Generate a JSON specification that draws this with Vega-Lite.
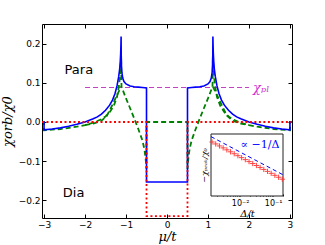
{
  "$schema": "https://vega.github.io/schema/vega-lite/v6.json",
  "width": 250,
  "height": 194,
  "autosize": "none",
  "padding": {"left": 42, "top": 24, "right": 33, "bottom": 27},
  "background": "white",
  "config": {
    "font": "DejaVu Sans",
    "view": {"stroke": "#000", "strokeWidth": 1},
    "axis": {"grid": false, "tickColor": "#000", "labelColor": "#000", "titleColor": "#000", "titleFontWeight": "normal"}
  },
  "datasets": {
    "blue": [
      {"i":1,"mu":-3.05,"chi":0},{"i":2,"mu":-3.0,"chi":0},{"i":3,"mu":-3.0,"chi":-0.02},{"i":4,"mu":-2.8,"chi":-0.018},
      {"i":5,"mu":-2.6,"chi":-0.015},{"i":6,"mu":-2.4,"chi":-0.011},{"i":7,"mu":-2.2,"chi":-0.006},{"i":8,"mu":-2.0,"chi":0.0},
      {"i":9,"mu":-1.8,"chi":0.008},{"i":10,"mu":-1.7,"chi":0.013},{"i":11,"mu":-1.6,"chi":0.02},{"i":12,"mu":-1.5,"chi":0.03},
      {"i":13,"mu":-1.4,"chi":0.043},{"i":14,"mu":-1.33,"chi":0.056},{"i":15,"mu":-1.27,"chi":0.072},{"i":16,"mu":-1.22,"chi":0.092},
      {"i":17,"mu":-1.18,"chi":0.115},{"i":18,"mu":-1.155,"chi":0.135},{"i":19,"mu":-1.14,"chi":0.155},{"i":20,"mu":-1.13,"chi":0.175},
      {"i":21,"mu":-1.123,"chi":0.2},{"i":22,"mu":-1.12,"chi":0.218},{"i":23,"mu":-1.117,"chi":0.17},{"i":24,"mu":-1.11,"chi":0.14},
      {"i":25,"mu":-1.1,"chi":0.125},{"i":26,"mu":-1.08,"chi":0.112},{"i":27,"mu":-1.05,"chi":0.103},{"i":28,"mu":-1.0,"chi":0.097},
      {"i":29,"mu":-0.9,"chi":0.092},{"i":30,"mu":-0.8,"chi":0.09},{"i":31,"mu":-0.7,"chi":0.089},{"i":32,"mu":-0.6,"chi":0.088},
      {"i":33,"mu":-0.5,"chi":0.087},{"i":34,"mu":-0.5,"chi":-0.153},{"i":35,"mu":0.5,"chi":-0.153},{"i":36,"mu":0.5,"chi":0.087},
      {"i":37,"mu":0.6,"chi":0.088},{"i":38,"mu":0.7,"chi":0.089},{"i":39,"mu":0.8,"chi":0.09},{"i":40,"mu":0.9,"chi":0.092},
      {"i":41,"mu":1.0,"chi":0.097},{"i":42,"mu":1.05,"chi":0.103},{"i":43,"mu":1.08,"chi":0.112},{"i":44,"mu":1.1,"chi":0.125},
      {"i":45,"mu":1.11,"chi":0.14},{"i":46,"mu":1.117,"chi":0.17},{"i":47,"mu":1.12,"chi":0.218},{"i":48,"mu":1.123,"chi":0.2},
      {"i":49,"mu":1.13,"chi":0.175},{"i":50,"mu":1.14,"chi":0.155},{"i":51,"mu":1.155,"chi":0.135},{"i":52,"mu":1.18,"chi":0.115},
      {"i":53,"mu":1.22,"chi":0.092},{"i":54,"mu":1.27,"chi":0.072},{"i":55,"mu":1.33,"chi":0.056},{"i":56,"mu":1.4,"chi":0.043},
      {"i":57,"mu":1.5,"chi":0.03},{"i":58,"mu":1.6,"chi":0.02},{"i":59,"mu":1.7,"chi":0.013},{"i":60,"mu":1.8,"chi":0.008},
      {"i":61,"mu":2.0,"chi":0.0},{"i":62,"mu":2.2,"chi":-0.006},{"i":63,"mu":2.4,"chi":-0.011},{"i":64,"mu":2.6,"chi":-0.015},
      {"i":65,"mu":2.8,"chi":-0.018},{"i":66,"mu":3.0,"chi":-0.02},{"i":67,"mu":3.0,"chi":0},{"i":68,"mu":3.05,"chi":0}
    ],
    "green1": [
      {"i":1,"mu":-3.05,"chi":0},{"i":2,"mu":-3.0,"chi":0},{"i":3,"mu":-3.0,"chi":-0.021},{"i":4,"mu":-2.6,"chi":-0.018},
      {"i":5,"mu":-2.2,"chi":-0.012},{"i":6,"mu":-2.0,"chi":-0.008},{"i":7,"mu":-1.8,"chi":-0.002},{"i":8,"mu":-1.6,"chi":0.007},
      {"i":9,"mu":-1.5,"chi":0.014},{"i":10,"mu":-1.4,"chi":0.025},{"i":11,"mu":-1.3,"chi":0.041},{"i":12,"mu":-1.22,"chi":0.064},
      {"i":13,"mu":-1.17,"chi":0.093},{"i":14,"mu":-1.14,"chi":0.125},{"i":15,"mu":-1.125,"chi":0.155},{"i":16,"mu":-1.12,"chi":0.172},
      {"i":17,"mu":-1.115,"chi":0.12},{"i":18,"mu":-1.11,"chi":0.09},{"i":19,"mu":-1.0,"chi":0.06},{"i":20,"mu":-0.9,"chi":0.035},
      {"i":21,"mu":-0.8,"chi":0.009},{"i":22,"mu":-0.7,"chi":-0.018},{"i":23,"mu":-0.6,"chi":-0.047},{"i":24,"mu":-0.55,"chi":-0.07},
      {"i":25,"mu":-0.52,"chi":-0.095},{"i":26,"mu":-0.5,"chi":-0.12},{"i":27,"mu":-0.5,"chi":0},{"i":28,"mu":0.5,"chi":0},
      {"i":29,"mu":0.5,"chi":-0.12},{"i":30,"mu":0.52,"chi":-0.095},{"i":31,"mu":0.55,"chi":-0.07},{"i":32,"mu":0.6,"chi":-0.047},
      {"i":33,"mu":0.7,"chi":-0.018},{"i":34,"mu":0.8,"chi":0.009},{"i":35,"mu":0.9,"chi":0.035},{"i":36,"mu":1.0,"chi":0.06},
      {"i":37,"mu":1.11,"chi":0.09},{"i":38,"mu":1.115,"chi":0.12},{"i":39,"mu":1.12,"chi":0.172},{"i":40,"mu":1.125,"chi":0.155},
      {"i":41,"mu":1.14,"chi":0.125},{"i":42,"mu":1.17,"chi":0.093},{"i":43,"mu":1.22,"chi":0.064},{"i":44,"mu":1.3,"chi":0.041},
      {"i":45,"mu":1.4,"chi":0.025},{"i":46,"mu":1.5,"chi":0.014},{"i":47,"mu":1.6,"chi":0.007},{"i":48,"mu":1.8,"chi":-0.002},
      {"i":49,"mu":2.0,"chi":-0.008},{"i":50,"mu":2.2,"chi":-0.012},{"i":51,"mu":2.6,"chi":-0.018},{"i":52,"mu":3.0,"chi":-0.021},
      {"i":53,"mu":3.0,"chi":0},{"i":54,"mu":3.05,"chi":0}
    ],
    "green2": [
      {"seg":"L","i":1,"mu":-2.0,"chi":-0.008},{"seg":"L","i":2,"mu":-1.8,"chi":-0.004},{"seg":"L","i":3,"mu":-1.6,"chi":0.003},
      {"seg":"L","i":4,"mu":-1.465,"chi":0.016},{"seg":"L","i":5,"mu":-1.35,"chi":0.04},{"seg":"L","i":6,"mu":-1.25,"chi":0.062},
      {"seg":"L","i":7,"mu":-1.12,"chi":0.09},
      {"seg":"R","i":1,"mu":1.12,"chi":0.09},{"seg":"R","i":2,"mu":1.25,"chi":0.062},{"seg":"R","i":3,"mu":1.35,"chi":0.04},
      {"seg":"R","i":4,"mu":1.465,"chi":0.016},{"seg":"R","i":5,"mu":1.6,"chi":0.003},{"seg":"R","i":6,"mu":1.8,"chi":-0.004},
      {"seg":"R","i":7,"mu":2.0,"chi":-0.008}
    ],
    "red": [
      {"i":1,"mu":-3.05,"chi":0},{"i":2,"mu":-0.5,"chi":0},{"i":3,"mu":-0.5,"chi":-0.24},
      {"i":4,"mu":0.5,"chi":-0.24},{"i":5,"mu":0.5,"chi":0},{"i":6,"mu":3.05,"chi":0}
    ],
    "plateau": [{"i":1,"mu":-2.0,"chi":0.088},{"i":2,"mu":2.0,"chi":0.088}],
    "labels": [
      {"mu":-2.15,"chi":0.133,"label":"Para"},
      {"mu":-2.28,"chi":-0.18,"label":"Dia"}
    ],
    "pl": [{"mu":2.1,"chi":0.086,"label":"χₚₗ"}],
    "insetRed": [
      {"d":0.0014,"v":1250},{"d":0.00181,"v":967},{"d":0.00235,"v":745},{"d":0.00304,"v":576},
      {"d":0.00394,"v":444},{"d":0.0051,"v":343},{"d":0.0066,"v":265},{"d":0.00855,"v":205},
      {"d":0.01107,"v":158},{"d":0.01434,"v":122},{"d":0.01857,"v":94.2},{"d":0.02405,"v":72.8},
      {"d":0.03114,"v":56.2},{"d":0.04033,"v":43.4},{"d":0.05222,"v":33.5},{"d":0.06763,"v":25.9},
      {"d":0.08758,"v":20.0},{"d":0.1134,"v":15.4},{"d":0.1469,"v":11.9},{"d":0.19,"v":9.2}
    ],
    "insetBlue": [{"d":0.0013,"v":2540},{"d":0.2,"v":16.5}],
    "insetText": [{"d":0.04,"v":850,"label":"∝ −1/Δ"}]
  },
  "layer": [
    {
      "layer": [
        {
          "data": {"name": "plateau"},
          "mark": {"type": "line", "color": "#c040c0", "strokeWidth": 1, "strokeDash": [5, 3], "clip": true},
          "encoding": {
            "x": {"field": "mu", "type": "quantitative",
              "scale": {"domain": [-3.05, 3.05], "nice": false, "zero": false},
              "axis": {"orient": "bottom", "values": [-3,-2,-1,0,1,2,3], "format": "d", "domain": false,
                "tickSize": -4, "labelPadding": 6, "labelFontSize": 9, "labelFont": "DejaVu Sans",
                "title": "μ/t", "titleFont": "DejaVu Serif", "titleFontStyle": "italic", "titleFontSize": 13, "titlePadding": 1}},
            "y": {"field": "chi", "type": "quantitative",
              "scale": {"domain": [-0.245, 0.25], "nice": false, "zero": false},
              "axis": {"orient": "left", "values": [-0.2,-0.1,0,0.1,0.2], "format": ".1f", "domain": false,
                "tickSize": -4, "labelPadding": 6, "labelFontSize": 9, "labelFont": "DejaVu Sans",
                "title": "χorb/χ0", "titleFont": "DejaVu Serif", "titleFontStyle": "italic", "titleFontSize": 13, "titlePadding": 4}},
            "order": {"field": "i"}
          }
        },
        {
          "data": {"name": "green1"},
          "mark": {"type": "line", "color": "#008000", "strokeWidth": 1.8, "strokeDash": [5, 3], "clip": true},
          "encoding": {"x": {"field": "mu", "type": "quantitative"}, "y": {"field": "chi", "type": "quantitative"}, "order": {"field": "i"}}
        },
        {
          "data": {"name": "green2"},
          "mark": {"type": "line", "color": "#008000", "strokeWidth": 1.8, "strokeDash": [5, 3], "clip": true},
          "encoding": {"x": {"field": "mu", "type": "quantitative"}, "y": {"field": "chi", "type": "quantitative"}, "detail": {"field": "seg"}, "order": {"field": "i"}}
        },
        {
          "data": {"name": "blue"},
          "mark": {"type": "line", "color": "#0000ff", "strokeWidth": 1.6, "clip": true},
          "encoding": {"x": {"field": "mu", "type": "quantitative"}, "y": {"field": "chi", "type": "quantitative"}, "order": {"field": "i"}}
        },
        {
          "data": {"name": "red"},
          "mark": {"type": "line", "color": "#ff0000", "strokeWidth": 1.8, "strokeDash": [2, 2.5], "clip": true},
          "encoding": {"x": {"field": "mu", "type": "quantitative"}, "y": {"field": "chi", "type": "quantitative"}, "order": {"field": "i"}}
        },
        {
          "data": {"name": "labels"},
          "mark": {"type": "text", "fontSize": 13, "font": "DejaVu Sans", "color": "#000", "baseline": "middle", "align": "center"},
          "encoding": {"x": {"field": "mu", "type": "quantitative"}, "y": {"field": "chi", "type": "quantitative"}, "text": {"field": "label"}}
        },
        {
          "data": {"name": "pl"},
          "mark": {"type": "text", "fontSize": 13, "font": "DejaVu Serif", "fontStyle": "italic", "color": "#d030d0", "baseline": "middle", "align": "left"},
          "encoding": {"x": {"field": "mu", "type": "quantitative"}, "y": {"field": "chi", "type": "quantitative"}, "text": {"field": "label"}}
        }
      ]
    },
    {
      "data": {"name": "plateau"},
      "mark": {"type": "point", "opacity": 0},
      "encoding": {
        "x": {"field": "mu", "type": "quantitative",
          "scale": {"domain": [-3.05, 3.05], "nice": false, "zero": false},
          "axis": {"orient": "top", "values": [-3,-2,-1,0,1,2,3], "labels": false, "domain": false, "tickSize": -4, "title": null}},
        "y": {"field": "chi", "type": "quantitative",
          "scale": {"domain": [-0.245, 0.25], "nice": false, "zero": false},
          "axis": {"orient": "right", "values": [-0.2,-0.1,0,0.1,0.2], "labels": false, "domain": false, "tickSize": -4, "title": null}}
      }
    },
    {
      "layer": [
        {
          "mark": {"type": "rect", "fill": "white", "stroke": "#222", "strokeWidth": 1},
          "data": {"values": [{}]},
          "encoding": {
            "x": {"datum": 0.0013, "type": "quantitative"},
            "x2": {"datum": 0.2},
            "y": {"datum": 1, "type": "quantitative"},
            "y2": {"datum": 3600}
          }
        },
        {
          "data": {"name": "insetBlue"},
          "mark": {"type": "line", "color": "#0000ff", "strokeWidth": 1, "strokeDash": [4, 3]},
          "encoding": {
            "x": {"field": "d", "type": "quantitative",
              "scale": {"type": "log", "domain": [0.0013, 0.2], "range": [169, 241], "nice": false},
              "axis": {"orient": "bottom", "offset": -22, "values": [0.002,0.003,0.004,0.005,0.006,0.007,0.008,0.009,0.01,0.02,0.03,0.04,0.05,0.06,0.07,0.08,0.09,0.1,0.2],
                "labelExpr": "datum.value == 0.01 ? '10⁻²' : (datum.value == 0.1 ? '10⁻¹' : '')",
                "domain": false, "tickSize": -2, "labelPadding": 5, "labelFontSize": 8, "labelFont": "DejaVu Sans",
                "title": "Δ/t", "titleFont": "DejaVu Serif", "titleFontStyle": "italic", "titleFontSize": 10, "titlePadding": 1}},
            "y": {"field": "v", "type": "quantitative",
              "scale": {"type": "log", "domain": [1, 3600], "range": [172, 110], "nice": false},
              "axis": {"orient": "left", "offset": -169, "values": [10, 100, 1000], "labels": false, "domain": false, "tickSize": -3,
                "title": "−χₚₑₐₖ/χ₀", "titleFont": "DejaVu Serif", "titleFontStyle": "italic", "titleFontSize": 8, "titlePadding": 2}}
          }
        },
        {
          "data": {"name": "insetRed"},
          "mark": {"type": "point", "shape": "M-1,0L1,0M0,-1L0,1", "filled": false, "stroke": "#ff3030", "strokeWidth": 1, "size": 28, "opacity": 0.9},
          "encoding": {"x": {"field": "d", "type": "quantitative"}, "y": {"field": "v", "type": "quantitative"}}
        },
        {
          "data": {"name": "insetText"},
          "mark": {"type": "text", "fontSize": 11, "font": "DejaVu Serif", "color": "#0000ff", "align": "center", "baseline": "middle"},
          "encoding": {"x": {"field": "d", "type": "quantitative"}, "y": {"field": "v", "type": "quantitative"}, "text": {"field": "label"}}
        }
      ]
    }
  ],
  "resolve": {"scale": {"x": "independent", "y": "independent"}, "axis": {"x": "independent", "y": "independent"}}
}
